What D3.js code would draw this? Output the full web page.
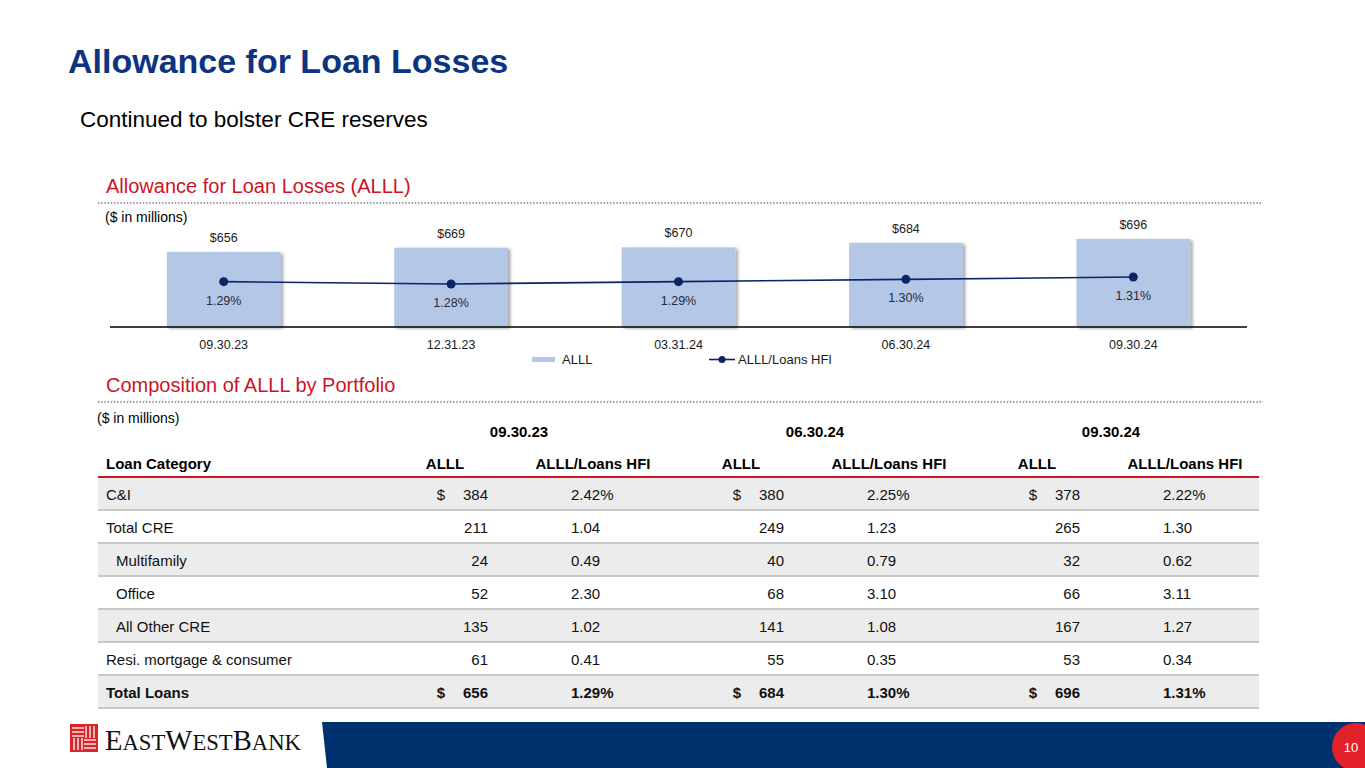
<!DOCTYPE html>
<html>
<head>
<meta charset="utf-8">
<script src="https://cdn.jsdelivr.net/npm/d3@7"></script>
<style>
  html, body { margin: 0; padding: 0; background: #fff; }
  svg { display: block; font-family: "Liberation Sans", Arial, sans-serif; }
</style>
</head>
<body>
<div id="frame"></div>
<script>
// DATA
// chart: ALLL by quarter
const periods = ["09.30.23", "12.31.23", "03.31.24", "06.30.24", "09.30.24"];
const alll = [656, 669, 670, 684, 696];
const alllRatio = [1.29, 1.28, 1.29, 1.30, 1.31];

// table: composition by portfolio
const tablePeriods = ["09.30.23", "06.30.24", "09.30.24"];
const categories = ["C&I", "Total CRE", "Multifamily", "Office", "All Other CRE", "Resi. mortgage & consumer", "Total Loans"];
const subCategories = ["Multifamily", "Office", "All Other CRE"];
const alll093023 = [384, 211, 24, 52, 135, 61, 656];
const ratio093023 = [2.42, 1.04, 0.49, 2.30, 1.02, 0.41, 1.29];
const alll063024 = [380, 249, 40, 68, 141, 55, 684];
const ratio063024 = [2.25, 1.23, 0.79, 3.10, 1.08, 0.35, 1.30];
const alll093024 = [378, 265, 32, 66, 167, 53, 696];
const ratio093024 = [2.22, 1.30, 0.62, 3.11, 1.27, 0.34, 1.31];

// VARIABLES
const width = 1365;
const height = 768;
const navy = "#0d3481";
const red = "#cc1426";
const barFill = "#b4c7e7";
const lineCol = "#0b2466";

const svg = d3.select("#frame")
    .append("svg")
        .attr("width", width)
        .attr("height", height)
        .attr("viewBox", [0, 0, width, height]);

// bar shadow
const defs = svg.append("defs");
const shadow = defs.append("filter")
    .attr("id", "shadow")
    .attr("x", "-10%").attr("y", "-10%")
    .attr("width", "130%").attr("height", "130%");
shadow.append("feDropShadow")
    .attr("dx", 2.5).attr("dy", 1.5)
    .attr("stdDeviation", 1.5)
    .attr("flood-color", "#000")
    .attr("flood-opacity", 0.35);

// TITLES
svg.append("text")
    .attr("x", 68).attr("y", 73)
    .attr("font-size", 34).attr("font-weight", "bold")
    .attr("fill", navy)
    .text("Allowance for Loan Losses");

svg.append("text")
    .attr("x", 80).attr("y", 127)
    .attr("font-size", 22.5)
    .attr("fill", "#000")
    .text("Continued to bolster CRE reserves");

function sectionHead(label, y) {
    svg.append("text")
        .attr("x", 106).attr("y", y)
        .attr("font-size", 20)
        .attr("fill", red)
        .text(label);
    svg.append("line")
        .attr("x1", 98).attr("x2", 1263)
        .attr("y1", y + 10).attr("y2", y + 10)
        .attr("stroke", "#7a7a7a")
        .attr("stroke-width", 1.6)
        .attr("stroke-dasharray", "1.4 1.8");
}

sectionHead("Allowance for Loan Losses (ALLL)", 193);
sectionHead("Composition of ALLL by Portfolio", 392);

svg.append("text")
    .attr("x", 105).attr("y", 222)
    .attr("font-size", 14)
    .text("($ in millions)");

svg.append("text")
    .attr("x", 97).attr("y", 423)
    .attr("font-size", 14)
    .text("($ in millions)");

// BAR + LINE CHART
const axisY = 327;
const x = d3.scaleBand()
    .domain(periods)
    .range([110, 1247])
    .paddingInner(0.5)
    .paddingOuter(0.25);

const y = d3.scaleLinear()
    .domain([425, 700])
    .range([axisY, axisY - 275 * 0.325]);

const yRatio = d3.scaleLinear()
    .domain([1.28, 1.31])
    .range([284, 277]);

const chartData = periods.map((p, i) => ({ period: p, alll: alll[i], ratio: alllRatio[i] }));

svg.append("g")
        .attr("class", "g-bars")
    .selectAll("rect")
    .data(chartData)
    .enter()
    .append("rect")
        .attr("x", d => x(d.period))
        .attr("y", d => y(d.alll))
        .attr("width", x.bandwidth())
        .attr("height", d => axisY - y(d.alll))
        .attr("fill", barFill)
        .attr("filter", "url(#shadow)");

svg.append("g")
        .attr("class", "g-bar-labels")
    .selectAll("text")
    .data(chartData)
    .enter()
    .append("text")
        .attr("x", d => x(d.period) + x.bandwidth() / 2)
        .attr("y", d => y(d.alll) - 10)
        .attr("text-anchor", "middle")
        .attr("font-size", 12.5)
        .attr("fill", "#1a1a1a")
        .text(d => "$" + d.alll);

// axis line + period labels
const xAxis = svg.append("g")
    .attr("transform", `translate(0,${axisY})`)
    .call(d3.axisBottom(x).tickSize(0).tickPadding(13));
xAxis.select(".domain")
    .attr("d", "M110,0H1247")
    .attr("stroke", "#000")
    .attr("stroke-width", 1.5);
xAxis.selectAll("text")
    .attr("font-size", 12.5)
    .attr("font-family", "Liberation Sans, Arial, sans-serif")
    .attr("fill", "#1a1a1a");

// ratio line
const line = d3.line()
    .x(d => x(d.period) + x.bandwidth() / 2)
    .y(d => yRatio(d.ratio));

svg.append("path")
    .datum(chartData)
    .attr("d", line)
    .attr("fill", "none")
    .attr("stroke", lineCol)
    .attr("stroke-width", 1.6);

svg.append("g")
    .selectAll("circle")
    .data(chartData)
    .enter()
    .append("circle")
        .attr("cx", d => x(d.period) + x.bandwidth() / 2)
        .attr("cy", d => yRatio(d.ratio))
        .attr("r", 4.5)
        .attr("fill", lineCol);

svg.append("g")
    .selectAll("text")
    .data(chartData)
    .enter()
    .append("text")
        .attr("x", d => x(d.period) + x.bandwidth() / 2)
        .attr("y", d => yRatio(d.ratio) + 23)
        .attr("text-anchor", "middle")
        .attr("font-size", 12.5)
        .attr("fill", "#262a3a")
        .text(d => d.ratio.toFixed(2) + "%");

// legend
const legend = svg.append("g").attr("font-size", 13).attr("fill", "#1a1a1a");
legend.append("rect")
    .attr("x", 532).attr("y", 357)
    .attr("width", 23).attr("height", 5)
    .attr("fill", barFill);
legend.append("text")
    .attr("x", 562).attr("y", 364)
    .text("ALLL");
legend.append("line")
    .attr("x1", 709).attr("x2", 735)
    .attr("y1", 359.5).attr("y2", 359.5)
    .attr("stroke", lineCol).attr("stroke-width", 1.6);
legend.append("circle")
    .attr("cx", 722).attr("cy", 359.5)
    .attr("r", 3.5).attr("fill", lineCol);
legend.append("text")
    .attr("x", 738).attr("y", 364)
    .text("ALLL/Loans HFI");

// TABLE
const tableLeft = 98;
const tableRight = 1259;
const headerLine = 477;

const col = d3.scalePoint()
    .domain(d3.range(6))
    .range([445, 1185]);

const row = d3.scaleBand()
    .domain(categories)
    .range([headerLine, headerLine + 33 * categories.length]);

const tableData = categories.map((c, i) => ({
    cat: c,
    values: [
        [alll093023[i], ratio093023[i]],
        [alll063024[i], ratio063024[i]],
        [alll093024[i], ratio093024[i]]
    ]
}));

// row backgrounds
svg.append("g")
    .selectAll("rect")
    .data(tableData)
    .enter()
    .append("rect")
        .attr("x", tableLeft)
        .attr("y", d => row(d.cat))
        .attr("width", tableRight - tableLeft)
        .attr("height", row.bandwidth())
        .attr("fill", (d, i) => i % 2 === 0 ? "#ececec" : "#ffffff");

// row separators
svg.append("g")
    .selectAll("line")
    .data(tableData)
    .enter()
    .append("line")
        .attr("x1", tableLeft).attr("x2", tableRight)
        .attr("y1", d => row(d.cat) + row.bandwidth())
        .attr("y2", d => row(d.cat) + row.bandwidth())
        .attr("stroke", "#c8c8c8")
        .attr("stroke-width", 2);

svg.append("line")
    .attr("x1", tableLeft).attr("x2", tableRight)
    .attr("y1", headerLine).attr("y2", headerLine)
    .attr("stroke", red)
    .attr("stroke-width", 1.8);

// group headers
svg.append("g")
    .selectAll("text")
    .data(tablePeriods)
    .enter()
    .append("text")
        .attr("x", (d, i) => (col(i * 2) + col(i * 2 + 1)) / 2)
        .attr("y", 437)
        .attr("text-anchor", "middle")
        .attr("font-size", 15)
        .attr("font-weight", "bold")
        .text(d => d);

// column headers
svg.append("text")
    .attr("x", 106).attr("y", 469)
    .attr("font-size", 15).attr("font-weight", "bold")
    .text("Loan Category");

svg.append("g")
    .selectAll("text")
    .data(d3.range(6))
    .enter()
    .append("text")
        .attr("x", d => col(d))
        .attr("y", 469)
        .attr("text-anchor", "middle")
        .attr("font-size", 15)
        .attr("font-weight", "bold")
        .text(d => d % 2 === 0 ? "ALLL" : "ALLL/Loans HFI");

// body rows
const rows = svg.append("g")
    .selectAll("g")
    .data(tableData)
    .enter()
    .append("g")
        .attr("transform", d => `translate(0,${row(d.cat) + 23})`)
        .attr("font-size", 15)
        .attr("font-weight", (d, i) => i === categories.length - 1 ? "bold" : "normal")
        .attr("fill", "#111");

rows.append("text")
    .attr("x", d => subCategories.includes(d.cat) ? 116 : 106)
    .text(d => d.cat);

const isEnd = (i) => i === 0 || i === categories.length - 1;

rows.each(function(d, i) {
    const g = d3.select(this);
    d.values.forEach((v, k) => {
        const cA = col(k * 2);
        const cR = col(k * 2 + 1);
        if (isEnd(i)) {
            g.append("text")
                .attr("x", cA - 4)
                .attr("text-anchor", "middle")
                .text("$");
        }
        g.append("text")
            .attr("x", cA + 43)
            .attr("text-anchor", "end")
            .text(v[0]);
        g.append("text")
            .attr("x", cR - 22)
            .text(v[1].toFixed(2) + (isEnd(i) ? "%" : ""));
    });
});

// FOOTER
svg.append("path")
    .attr("d", "M322,722H1365V768H327Z")
    .attr("fill", "#00316f");

svg.append("circle")
    .attr("cx", 1356).attr("cy", 747)
    .attr("r", 24)
    .attr("fill", "#e3212b");
svg.append("text")
    .attr("x", 1351).attr("y", 752)
    .attr("text-anchor", "middle")
    .attr("font-size", 13)
    .attr("fill", "#fff")
    .text("10");

// logo mark
const logo = svg.append("g").attr("transform", "translate(70,724)");
logo.append("rect")
    .attr("width", 28).attr("height", 28)
    .attr("fill", "#d9262b");
[4, 8, 12].forEach(o => {
    logo.append("line")
        .attr("x1", 2).attr("x2", 14)
        .attr("y1", o).attr("y2", o)
        .attr("stroke", "#fff").attr("stroke-width", 1.3);
    logo.append("line")
        .attr("x1", o + 12).attr("x2", o + 12)
        .attr("y1", 2).attr("y2", 14)
        .attr("stroke", "#fff").attr("stroke-width", 1.3);
    logo.append("line")
        .attr("x1", o).attr("x2", o)
        .attr("y1", 14).attr("y2", 26)
        .attr("stroke", "#fff").attr("stroke-width", 1.3);
    logo.append("line")
        .attr("x1", 14).attr("x2", 26)
        .attr("y1", o + 12).attr("y2", o + 12)
        .attr("stroke", "#fff").attr("stroke-width", 1.3);
});

const logoText = svg.append("text")
    .attr("x", 105).attr("y", 750)
    .attr("font-family", "Liberation Serif, DejaVu Serif, serif")
    .attr("fill", "#111")
    .attr("textLength", 196)
    .attr("lengthAdjust", "spacingAndGlyphs");
[["E", 29], ["AST", 23], ["W", 29], ["EST", 23], ["B", 29], ["ANK", 23]].forEach(([t, s]) => {
    logoText.append("tspan").attr("font-size", s).text(t);
});
</script>
</body>
</html>
